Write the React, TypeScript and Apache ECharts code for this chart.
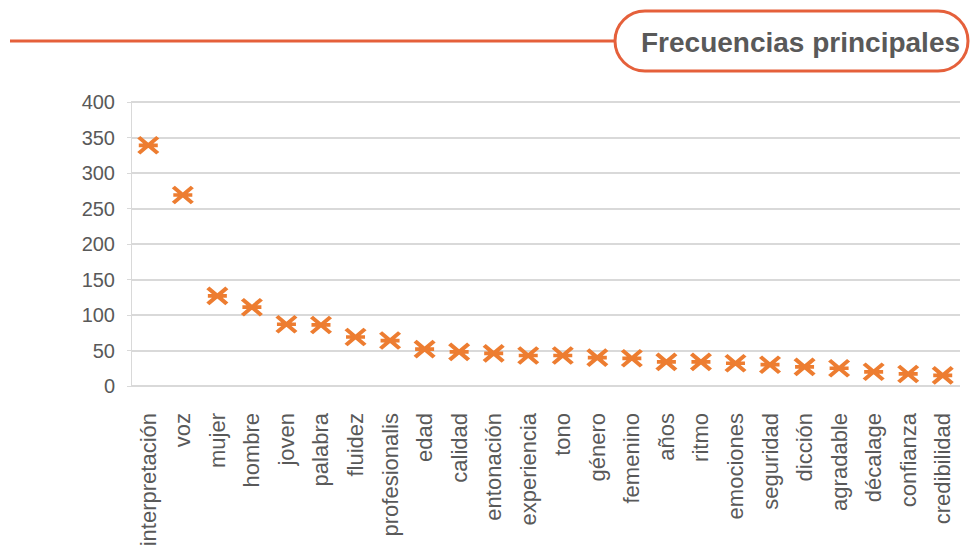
import React, { useEffect, useRef } from "react";
import * as echarts from "echarts";

const categories = [
  "interpretación", "voz", "mujer", "hombre", "joven", "palabra", "fluidez",
  "profesionalis", "edad", "calidad", "entonación", "experiencia", "tono",
  "género", "femenino", "años", "ritmo", "emociones", "seguridad", "dicción",
  "agradable", "décalage", "confianza", "credibilidad",
];
const frequencies = [
  339, 269, 127, 111, 87, 86, 69, 64, 52, 48, 46, 43, 43, 40, 39, 34, 34, 32,
  30, 27, 25, 20, 17, 15,
];
const titleText = "Frecuencias principales";

export default function App() {
  const ref = useRef<HTMLDivElement>(null);
  useEffect(() => {
    if (!ref.current) return;
    const chart = echarts.init(ref.current, undefined, { renderer: "svg" });
    chart.setOption({
      animation: false,
      backgroundColor: "#ffffff",
      textStyle: { fontFamily: "Liberation Sans, Arial, sans-serif" },
      grid: { left: 131, right: 12, top: 102, bottom: 164, containLabel: false },
      xAxis: {
        type: "category",
        data: categories,
        axisLine: { show: false },
        axisTick: { show: false },
        axisLabel: {
          rotate: 90,
          interval: 0,
          color: "#595959",
          fontSize: 22,
          margin: 27,
          fontFamily: "Liberation Sans, Arial, sans-serif",
        },
      },
      yAxis: {
        type: "value",
        min: 0,
        max: 400,
        interval: 50,
        axisLine: { show: true, lineStyle: { color: "#d9d9d9", width: 1 } },
        axisTick: { show: true, inside: false, length: 4, lineStyle: { color: "#d9d9d9" } },
        splitLine: { show: true, lineStyle: { color: "#d9d9d9", width: 2 } },
        axisLabel: {
          color: "#595959",
          fontSize: 20,
          margin: 16,
          fontFamily: "Liberation Sans, Arial, sans-serif",
        },
      },
      series: [
        {
          type: "scatter",
          data: frequencies,
          symbol: "path://M0,0 L10,10 M10,0 L0,10 M0,5 L10,5",
          symbolSize: [19, 16],
          itemStyle: {
            color: "transparent",
            borderColor: "#ED7D31",
            borderWidth: 4,
            opacity: 1,
          },
        },
      ],
      graphic: [
        {
          type: "line",
          shape: { x1: 10, y1: 41, x2: 615, y2: 41 },
          style: { stroke: "#E5603B", lineWidth: 3 },
        },
        {
          type: "rect",
          shape: { x: 615, y: 11, width: 353, height: 60, r: 30 },
          style: { fill: "#ffffff", stroke: "#E5603B", lineWidth: 3 },
        },
        {
          type: "text",
          x: 641,
          y: 42,
          style: {
            text: titleText,
            fill: "#595959",
            font: "bold 28px 'Liberation Sans', Arial, sans-serif",
            verticalAlign: "middle",
            textAlign: "left",
          },
        },
      ],
    });
    return () => chart.dispose();
  }, []);
  return <div ref={ref} style={{ width: 972, height: 550, position: "absolute", left: 0, top: 0 }} />;
}
